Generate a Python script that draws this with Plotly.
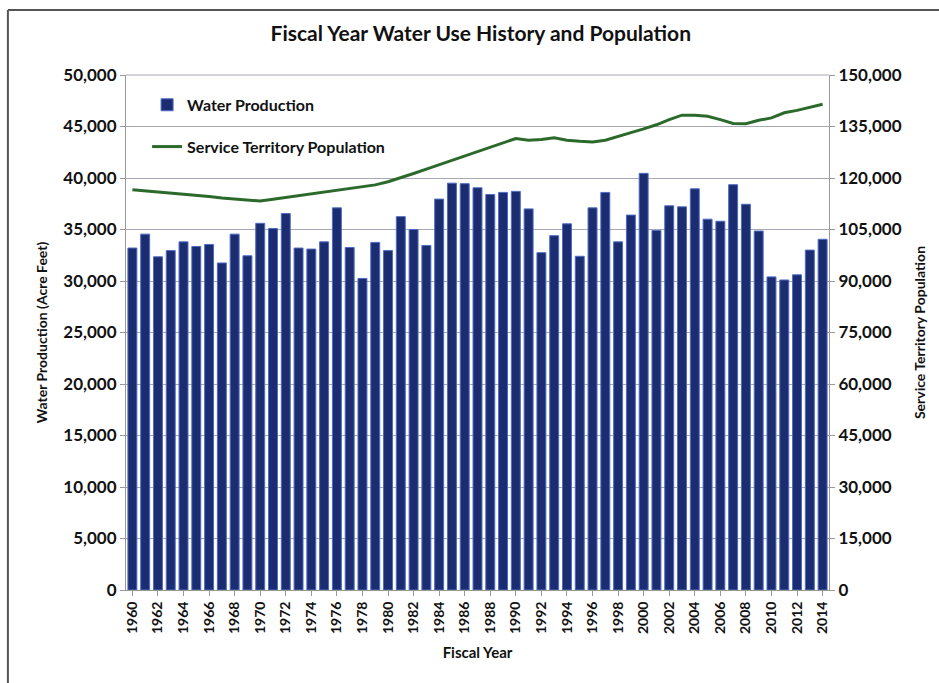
import plotly.graph_objects as go

years = list(range(1960, 2015))
water_production = [
    33200, 34550, 32350, 32950, 33800, 33350, 33550, 31750, 34550, 32450,
    35600, 35100, 36550, 33200, 33100, 33800, 37100, 33250, 30250, 33750,
    32950, 36250, 35000, 33450, 37950, 39500, 39450, 39050, 38400, 38600,
    38700, 37000, 32750, 34400, 35550, 32400, 37100, 38600, 33800, 36400,
    40450, 34900, 37300, 37200, 38950, 36000, 35800, 39350, 37450, 34850,
    30400, 30100, 30600, 33000, 34050,
]
population = [
    116600, 116300, 116000, 115700, 115400, 115000, 114600, 114200, 113900, 113600,
    113300, 113800, 114300, 114900, 115500, 115900, 116300, 116800, 117300, 118000,
    118900, 120000, 121300, 122600, 123900, 125200, 126400, 127800, 129000, 130300,
    131500, 131000, 131200, 131700, 131000, 130700, 130500, 131000, 132000, 133200,
    134300, 135500, 137000, 138300, 138300, 138000, 137000, 135900, 135800, 136800,
    137500, 139000, 139700, 140600, 141500,
]
x_ticks = list(range(1960, 2015, 2))
left_ticks = list(range(0, 50001, 5000))
right_ticks = list(range(0, 150001, 15000))

FONT = "Lato"

fig = go.Figure()
fig.add_trace(go.Bar(
    x=years, y=water_production, name="<b>Water Production</b>",
    marker=dict(color="#1c2c70", line=dict(color="#4d6cc4", width=1)),
    yaxis="y", legendgroup="a",
))
fig.add_trace(go.Scatter(
    x=years, y=population, name="<b>Service Territory Population</b>",
    mode="lines", line=dict(color="#2b6a2b", width=3),
    yaxis="y2", legendgroup="b",
))

fig.update_layout(
    width=939, height=683,
    margin=dict(l=126, r=110, t=75, b=93),
    paper_bgcolor="white", plot_bgcolor="white",
    font=dict(family=FONT, color="#111111"),
    bargap=0.3,
    showlegend=True,
    title=dict(
        text="<b>Fiscal Year Water Use History and Population</b>",
        x=0.512, xanchor="center", y=0.951, yanchor="middle",
        font=dict(size=21, family=FONT, color="#111111"),
    ),
    legend=dict(
        x=0.03, y=0.975, xanchor="left", yanchor="top",
        bgcolor="rgba(0,0,0,0)",
        font=dict(size=16, family=FONT, color="#111111"),
        tracegroupgap=18, itemwidth=30,
    ),
    xaxis=dict(
        range=[1959.5, 2014.5],
        tickvals=x_ticks, ticktext=[f"<b>{v}</b>" for v in x_ticks],
        tickangle=-90, tickfont=dict(size=14, family=FONT),
        ticks="outside", ticklen=5, tickcolor="#999999",
        showline=True, linecolor="#999999", linewidth=1,
        showgrid=False,
        title=dict(text="<b>Fiscal Year</b>", font=dict(size=15, family=FONT), standoff=14),
    ),
    yaxis=dict(
        range=[0, 50000], tickvals=left_ticks,
        ticktext=[f"<b>{v:,}</b>" for v in left_ticks],
        tickfont=dict(size=17, family=FONT),
        showgrid=True, gridcolor="#a8a8b4", gridwidth=1,
        showline=True, linecolor="#999999", linewidth=1,
        ticks="outside", ticklen=5, tickcolor="#999999",
        zeroline=False,
        title=dict(text="<b>Water Production (Acre Feet)</b>", font=dict(size=14, family=FONT), standoff=12),
    ),
    yaxis2=dict(
        range=[0, 150000], tickvals=right_ticks,
        ticktext=[f"<b>{v:,}</b>" for v in right_ticks],
        tickfont=dict(size=17, family=FONT),
        overlaying="y", side="right",
        showgrid=False,
        showline=True, linecolor="#999999", linewidth=1,
        ticks="outside", ticklen=5, tickcolor="#999999",
        zeroline=False,
        title=dict(text="<b>Service Territory Population</b>", font=dict(size=14, family=FONT), standoff=14),
    ),
    shapes=[
        dict(type="line", xref="paper", yref="paper", x0=-0.168, x1=1.5, y0=1.126, y1=1.126,
             line=dict(color="#555555", width=2)),
        dict(type="line", xref="paper", yref="paper", x0=-0.168, x1=-0.168, y0=1.126, y1=-0.3,
             line=dict(color="#555555", width=2)),
        dict(type="line", xref="paper", yref="paper", x0=0, x1=1, y0=1, y1=1,
             line=dict(color="#a8a8b4", width=1)),
    ],
)

fig.write_html("out.html")
